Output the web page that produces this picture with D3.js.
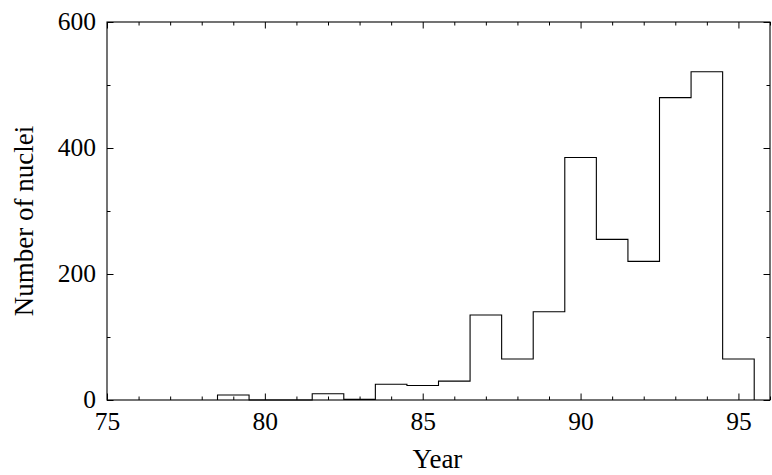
<!DOCTYPE html>
<html>
<head>
<meta charset="utf-8">
<script src="https://cdn.jsdelivr.net/npm/d3@7"></script>
<style>
  html, body { margin: 0; padding: 0; background: #fff; }
  svg text { font-family: "Liberation Serif", "Times New Roman", serif; fill: #000; }
</style>
</head>
<body>
<svg id="chart" width="772" height="475"></svg>
<script>
// Data: histogram of number of nuclei per year (bins of width 1, centered on year)
const years  = [79, 80, 81, 82, 83, 84, 85, 86, 87, 88, 89, 90, 91, 92, 93, 94, 95];
const counts = [8, 0, 0, 10, 1, 25, 23, 30, 135, 65, 140, 385, 255, 220, 480, 521, 65];
const xMajorTicks = [75, 80, 85, 90, 95];
const xMinorTicks = [76, 77, 78, 79, 81, 82, 83, 84, 86, 87, 88, 89, 91, 92, 93, 94, 96];
const yMajorTicks = [0, 200, 400, 600];
const yMinorTicks = [100, 300, 500];
const xLabel = "Year";
const yLabel = "Number of nuclei";

(function () {
const svg = d3.select("#chart");
const mLeft = 107, mRight = 770, mTop = 22, mBottom = 400;

const x = d3.scaleLinear().domain([75, 96]).range([mLeft, mRight]);
const y = d3.scaleLinear().domain([0, 600]).range([mBottom, mTop]);

const tickFont = 25.5, titleFont = 27;
const majorLen = 6.5, minorLen = 3.5;

// Frame
svg.append("rect")
  .attr("x", mLeft).attr("y", mTop)
  .attr("width", mRight - mLeft).attr("height", mBottom - mTop)
  .attr("fill", "none").attr("stroke", "#000").attr("stroke-width", 1.1);

function styleAxis(g) {
  g.select(".domain").remove();
  g.selectAll(".tick line").attr("stroke", "#000").attr("stroke-width", 1);
}

// Bottom axis (labels + inward major ticks)
const gb = svg.append("g").attr("transform", `translate(0,${mBottom})`)
  .call(d3.axisBottom(x).tickValues(xMajorTicks).tickSize(-majorLen).tickPadding(0).tickFormat(d3.format("d")));
styleAxis(gb);
gb.selectAll(".tick text").attr("font-size", tickFont).attr("y", 30).attr("dy", 0);

svg.append("g").attr("transform", `translate(0,${mBottom})`)
  .call(d3.axisBottom(x).tickValues(xMinorTicks).tickSize(-minorLen).tickFormat(""))
  .call(styleAxis);

// Top axis (inward ticks, no labels)
svg.append("g").attr("transform", `translate(0,${mTop})`)
  .call(d3.axisTop(x).tickValues(xMajorTicks).tickSize(-majorLen).tickFormat(""))
  .call(styleAxis);
svg.append("g").attr("transform", `translate(0,${mTop})`)
  .call(d3.axisTop(x).tickValues(xMinorTicks).tickSize(-minorLen).tickFormat(""))
  .call(styleAxis);

// Left axis
const gl = svg.append("g").attr("transform", `translate(${mLeft},0)`)
  .call(d3.axisLeft(y).tickValues(yMajorTicks).tickSize(-majorLen).tickPadding(0).tickFormat(d3.format("d")));
styleAxis(gl);
gl.selectAll(".tick text").attr("font-size", tickFont).attr("x", -11).attr("dy", "0.3em");

svg.append("g").attr("transform", `translate(${mLeft},0)`)
  .call(d3.axisLeft(y).tickValues(yMinorTicks).tickSize(-minorLen).tickFormat(""))
  .call(styleAxis);

// Right axis
svg.append("g").attr("transform", `translate(${mRight},0)`)
  .call(d3.axisRight(y).tickValues(yMajorTicks).tickSize(-majorLen).tickFormat(""))
  .call(styleAxis);
svg.append("g").attr("transform", `translate(${mRight},0)`)
  .call(d3.axisRight(y).tickValues(yMinorTicks).tickSize(-minorLen).tickFormat(""))
  .call(styleAxis);

// Histogram step outline
const pts = [[years[0] - 0.5, 0]];
years.forEach((yr, i) => {
  pts.push([yr - 0.5, counts[i]]);
  pts.push([yr + 0.5, counts[i]]);
});
pts.push([years[years.length - 1] + 0.5, 0]);

const line = d3.line().x(d => x(d[0])).y(d => y(d[1]));
svg.append("path")
  .attr("d", line(pts))
  .attr("fill", "none")
  .attr("stroke", "#000")
  .attr("stroke-width", 1.1);

// Axis titles
svg.append("text")
  .attr("x", (mLeft + mRight) / 2 - 1).attr("y", 468)
  .attr("text-anchor", "middle").attr("font-size", titleFont)
  .text(xLabel);

svg.append("text")
  .attr("transform", `translate(33,221) rotate(-90)`)
  .attr("text-anchor", "middle").attr("font-size", titleFont)
  .text(yLabel);
})();
</script>
</body>
</html>
